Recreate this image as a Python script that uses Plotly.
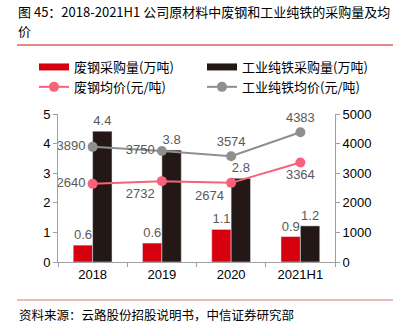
import plotly.graph_objects as go

categories = ["2018", "2019", "2020", "2021H1"]
scrap_volume = [0.57, 0.64, 1.10, 0.86]        # 废钢采购量(万吨)
iron_volume = [4.42, 3.78, 2.83, 1.22]         # 工业纯铁采购量(万吨)
scrap_price = [2640, 2732, 2674, 3364]         # 废钢均价(元/吨)
iron_price = [3890, 3750, 3574, 4383]          # 工业纯铁均价(元/吨)
scrap_price_pos = ["middle left", "bottom left", "bottom left", "bottom center"]
iron_price_pos = ["middle left", "middle left", "top center", "top center"]
title_lines = ["图 45：2018-2021H1 公司原材料中废钢和工业纯铁的采购量及均", "价"]
source_text = "资料来源：云路股份招股说明书，中信证券研究部"

RED = "#d7000f"
DARK = "#231815"
PINK = "#f9607a"
GRAY = "#8f8f8f"
TXT = "#595959"
FONT = "Liberation Sans, Arial, Noto Sans CJK SC"
CJK = "Noto Sans CJK SC"

W, H = 398, 332
ml, mr, mt, mb = 58, 63, 114, 70
pw, ph = W - ml - mr, H - mt - mb

def px(x):
    return (x - ml) / pw

def py(y):
    return 1 + (mt - y) / ph

fig = go.Figure()
fig.add_trace(go.Bar(x=categories, y=scrap_volume, marker_color=RED, showlegend=False,
                     text=scrap_volume, texttemplate="%{y:.1f}", textposition="outside",
                     textfont=dict(color=TXT, size=13), cliponaxis=False))
fig.add_trace(go.Bar(x=categories, y=iron_volume, marker_color=DARK, showlegend=False,
                     text=iron_volume, texttemplate="%{y:.1f}", textposition="outside",
                     textfont=dict(color=TXT, size=13), cliponaxis=False))
# legend entries for bars (wide swatches)
fig.add_trace(go.Scatter(x=[None], y=[None], mode="lines", name="废钢采购量(万吨)",
                         line=dict(color=RED, width=7)))
fig.add_trace(go.Scatter(x=[None], y=[None], mode="lines", name="工业纯铁采购量(万吨)",
                         line=dict(color=DARK, width=7)))
fig.add_trace(go.Scatter(x=categories, y=scrap_price, yaxis="y2", mode="lines+markers+text",
                         name="废钢均价(元/吨)", line=dict(color=PINK, width=2),
                         marker=dict(size=10, color=PINK), text=scrap_price,
                         textposition=scrap_price_pos, textfont=dict(color=TXT, size=13),
                         cliponaxis=False))
fig.add_trace(go.Scatter(x=categories, y=iron_price, yaxis="y2", mode="lines+markers+text",
                         name="工业纯铁均价(元/吨)", line=dict(color=GRAY, width=2),
                         marker=dict(size=10, color=GRAY), text=iron_price,
                         textposition=iron_price_pos, textfont=dict(color=TXT, size=13),
                         cliponaxis=False))

axis_common = dict(showgrid=False, zeroline=False, showline=True, linecolor="#a0a0a0",
                   linewidth=1, ticks="outside", tickcolor="#a0a0a0", ticklen=4,
                   tickfont=dict(size=13, color="#000000"))

fig.update_layout(
    width=W, height=H, margin=dict(l=ml, r=mr, t=mt, b=mb, autoexpand=False),
    paper_bgcolor="white", plot_bgcolor="white",
    font=dict(family=FONT, color="#000000"),
    barmode="group", bargap=0.44, bargroupgap=0,
    xaxis=dict(**axis_common, tickson="boundaries"),
    yaxis=dict(**axis_common, range=[0, 5], dtick=1),
    yaxis2=dict(**axis_common, range=[0, 5000], dtick=1000, overlaying="y", side="right"),
    legend=dict(orientation="h", xref="paper", yref="paper",
                x=px(34), y=py(52), xanchor="left", yanchor="top",
                entrywidth=123, entrywidthmode="pixels", itemwidth=30,
                bgcolor="rgba(0,0,0,0)",
                font=dict(size=13, family=CJK), tracegroupgap=0),
    showlegend=True,
)

for line_text, yc in zip(title_lines, [11.5, 30]):
    fig.add_annotation(text=line_text, xref="paper", yref="paper", x=px(17), y=py(yc),
                       xanchor="left", yanchor="middle", showarrow=False, align="left",
                       borderpad=0,
                       font=dict(size=13, family=CJK, color="#000000"))
fig.add_annotation(text=source_text, xref="paper", yref="paper", x=px(17), y=py(314),
                   xanchor="left", yanchor="middle", showarrow=False, align="left",
                   font=dict(size=12.5, family=CJK, color="#000000"))
fig.add_shape(type="line", xref="paper", yref="paper", x0=px(17), x1=px(393),
              y0=py(45), y1=py(45), line=dict(color="#d01010", width=1.2))
fig.add_shape(type="line", xref="paper", yref="paper", x0=px(17), x1=px(393),
              y0=py(300), y1=py(300), line=dict(color="#e07070", width=1))

fig.write_html("out.html")
